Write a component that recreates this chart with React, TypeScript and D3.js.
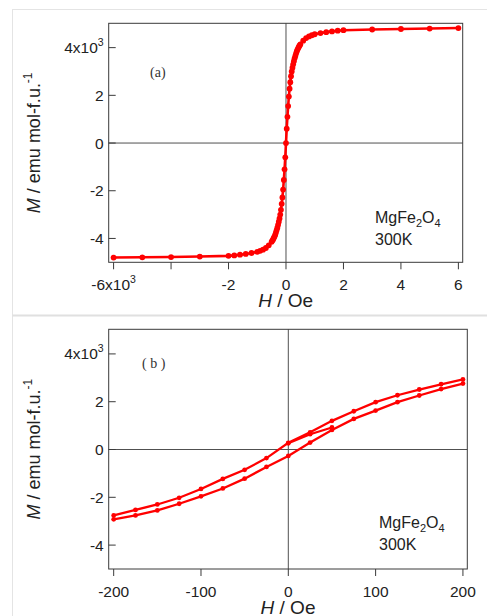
import React from 'react';
import * as d3 from 'd3';

// panel (a): full loop, H and M in units of 10^3
const hA = [
  -6, -5, -4, -3, -2, -1.8, -1.6, -1.4, -1.2, -1.0, -0.9, -0.8, -0.7, -0.6, -0.5,
  -0.475, -0.45, -0.425, -0.4, -0.375, -0.35, -0.325, -0.3, -0.275, -0.25, -0.225, -0.2,
  -0.175, -0.15, -0.125, -0.1, -0.075, -0.05, -0.025, 0,
  0.025, 0.05, 0.075, 0.1, 0.125, 0.15, 0.175, 0.2, 0.225, 0.25, 0.275, 0.3, 0.325,
  0.35, 0.375, 0.4, 0.425, 0.45, 0.475, 0.5, 0.6, 0.7, 0.8, 0.9, 1.0, 1.2, 1.4, 1.6,
  1.8, 2, 3, 4, 5, 6
];
const mA = [
  -4.8, -4.79, -4.78, -4.76, -4.73, -4.71, -4.68, -4.65, -4.61, -4.56, -4.52, -4.47, -4.4, -4.29, -4.14,
  -4.09, -4.04, -3.98, -3.92, -3.84, -3.75, -3.65, -3.55, -3.43, -3.3, -3.16, -3.0,
  -2.8, -2.55, -2.28, -1.95, -1.55, -1.1, -0.6, 0,
  0.6, 1.1, 1.55, 1.95, 2.28, 2.55, 2.8, 3.0, 3.16, 3.3, 3.43, 3.55, 3.65,
  3.75, 3.84, 3.92, 3.98, 4.04, 4.09, 4.14, 4.29, 4.4, 4.47, 4.52, 4.56, 4.61, 4.65, 4.68,
  4.71, 4.73, 4.76, 4.78, 4.8, 4.82
];

// panel (b): low field loop
const hB = [-200, -175, -150, -125, -100, -75, -50, -25, 0, 25, 50, 75, 100, 125, 150, 175, 200];
const mBDown = [-2.76, -2.53, -2.3, -2.02, -1.65, -1.23, -0.85, -0.36, 0.28, 0.72, 1.2, 1.6, 1.98, 2.27, 2.51, 2.73, 2.93];
const mBUp = [-2.92, -2.76, -2.55, -2.27, -1.96, -1.63, -1.22, -0.73, -0.27, 0.29, 0.82, 1.28, 1.63, 1.98, 2.26, 2.53, 2.76];
const hBStart = [0, 25, 50];
const mBStart = [0.26, 0.64, 0.92];

const ticksA = [-6, -4, -2, 0, 2, 4, 6];
const tickLabelsA = ['-6x10^3', '', '-2', '0', '2', '4', '6'];
const ticksB = [-200, -100, 0, 100, 200];
const tickLabelsB = ['-200', '-100', '0', '100', '200'];
const ticksM = [-4, -2, 0, 2, 4];
const tickLabelsM = ['-4', '-2', '0', '2', '4x10^3'];

const RED = '#ff0000';
const AXIS = '#3a3a3a';
const SANS = '"Liberation Sans", Arial, sans-serif';

type Series = { h: number[]; m: number[] };

const Label = ({ text, ...rest }: { text: string; [k: string]: unknown }) => {
  const [base, exp] = text.split('^');
  return (
    <text {...rest}>
      {base}
      {exp && (
        <tspan dy={-7} fontSize={10.5}>
          {exp}
        </tspan>
      )}
    </text>
  );
};

interface PanelProps {
  box: { l: number; r: number; t: number; b: number };
  xDomain: [number, number];
  yDomain: [number, number];
  xTicks: number[];
  xLabels: string[];
  series: Series[];
  r: number;
  lw: number;
  tag: string;
  tagX: number;
  tagY: number;
  noteX: number;
  noteY: number;
}

const Panel = ({ box, xDomain, yDomain, xTicks, xLabels, series, r, lw, tag, tagX, tagY, noteX, noteY }: PanelProps) => {
  const x = d3.scaleLinear().domain(xDomain).range([box.l, box.r]);
  const y = d3.scaleLinear().domain(yDomain).range([box.b, box.t]);
  const midY = (box.t + box.b) / 2;
  const midX = (box.l + box.r) / 2;

  return (
    <g>
      {/* zero lines */}
      <line x1={x(0)} x2={x(0)} y1={box.t} y2={box.b} stroke="#505050" strokeWidth={1} />
      <line x1={box.l} x2={box.r} y1={y(0)} y2={y(0)} stroke="#505050" strokeWidth={1} />

      {/* data */}
      {series.map((s, i) => {
        const path = d3
          .line<number>()
          .x((_, j) => x(s.h[j]))
          .y((d) => y(d))(s.m);
        return (
          <g key={i}>
            <path d={path || ''} fill="none" stroke={RED} strokeWidth={lw} />
            {s.m.map((v, j) => (
              <circle key={j} cx={x(s.h[j])} cy={y(v)} r={r} fill={RED} />
            ))}
          </g>
        );
      })}

      {/* frame */}
      <rect x={box.l} y={box.t} width={box.r - box.l} height={box.b - box.t} fill="none" stroke={AXIS} strokeWidth={1} />

      {/* left ticks, pointing in */}
      {ticksM.map((t, i) => (
        <g key={'y' + i}>
          <line x1={box.l} x2={box.l + 7} y1={y(t)} y2={y(t)} stroke={AXIS} />
          <Label
            text={tickLabelsM[i]}
            x={box.l - 5}
            y={y(t) + 5.5}
            textAnchor="end"
            fontSize={15.5}
            fontFamily={SANS}
            fill="#222"
          />
        </g>
      ))}

      {/* bottom ticks, pointing out */}
      {xTicks.map((t, i) => (
        <g key={'x' + i}>
          <line x1={x(t)} x2={x(t)} y1={box.b} y2={box.b + 7} stroke={AXIS} />
          <Label
            text={xLabels[i]}
            x={x(t)}
            y={box.b + 28}
            textAnchor="middle"
            fontSize={15.5}
            fontFamily={SANS}
            fill="#222"
          />
        </g>
      ))}

      {/* axis titles */}
      <text x={midX} y={box.b + 45} textAnchor="middle" fontSize={19} fontFamily={SANS} fill="#222">
        <tspan fontStyle="italic">H</tspan> / Oe
      </text>
      <text
        transform={`translate(40,${midY}) rotate(-90)`}
        textAnchor="middle"
        fontSize={18}
        fontFamily={SANS}
        fill="#222"
      >
        <tspan fontStyle="italic">M</tspan> / emu mol-f.u.
        <tspan dy={-8} fontSize={12}>
          -1
        </tspan>
      </text>

      {/* panel tag */}
      <text x={tagX} y={tagY} fontSize={14} fontFamily='"Liberation Serif", serif' fill="#333" xmlSpace="preserve">
        {tag}
      </text>

      {/* sample note */}
      <text x={noteX} y={noteY} fontSize={16} fontFamily={SANS} fill="#222">
        MgFe
        <tspan dy={4} fontSize={11}>
          2
        </tspan>
        <tspan dy={-4}>O</tspan>
        <tspan dy={4} fontSize={11}>
          4
        </tspan>
      </text>
      <text x={noteX} y={noteY + 22} fontSize={16} fontFamily={SANS} fill="#222">
        300K
      </text>
    </g>
  );
};

export default function App() {
  return (
    <svg
      width={487}
      height={616}
      style={{ position: 'absolute', left: 0, top: 0, background: '#fff' }}
    >
      {/* page frame lines */}
      <line x1={12.5} x2={12.5} y1={9} y2={616} stroke="#e4e4e4" />
      <line x1={12.5} x2={487} y1={9.5} y2={9.5} stroke="#e4e4e4" />
      <line x1={12.5} x2={487} y1={315.5} y2={315.5} stroke="#e0e0e0" strokeWidth={2} />

      <Panel
        box={{ l: 108.7, r: 462.7, t: 23.3, b: 262.3 }}
        xDomain={[-6.17, 6.15]}
        yDomain={[-5, 5.02]}
        xTicks={ticksA}
        xLabels={tickLabelsA}
        series={[{ h: hA, m: mA }]}
        r={2.9}
        lw={2.6}
        tag="(a)"
        tagX={150}
        tagY={77}
        noteX={375}
        noteY={223}
      />
      <Panel
        box={{ l: 108.7, r: 467.3, t: 329.3, b: 569 }}
        xDomain={[-205.7, 205]}
        yDomain={[-5, 5.03]}
        xTicks={ticksB}
        xLabels={tickLabelsB}
        series={[
          { h: hB, m: mBDown },
          { h: hB, m: mBUp },
          { h: hBStart, m: mBStart }
        ]}
        r={2.4}
        lw={2.3}
        tag="( b )"
        tagX={142}
        tagY={368}
        noteX={379}
        noteY={528}
      />
    </svg>
  );
}
